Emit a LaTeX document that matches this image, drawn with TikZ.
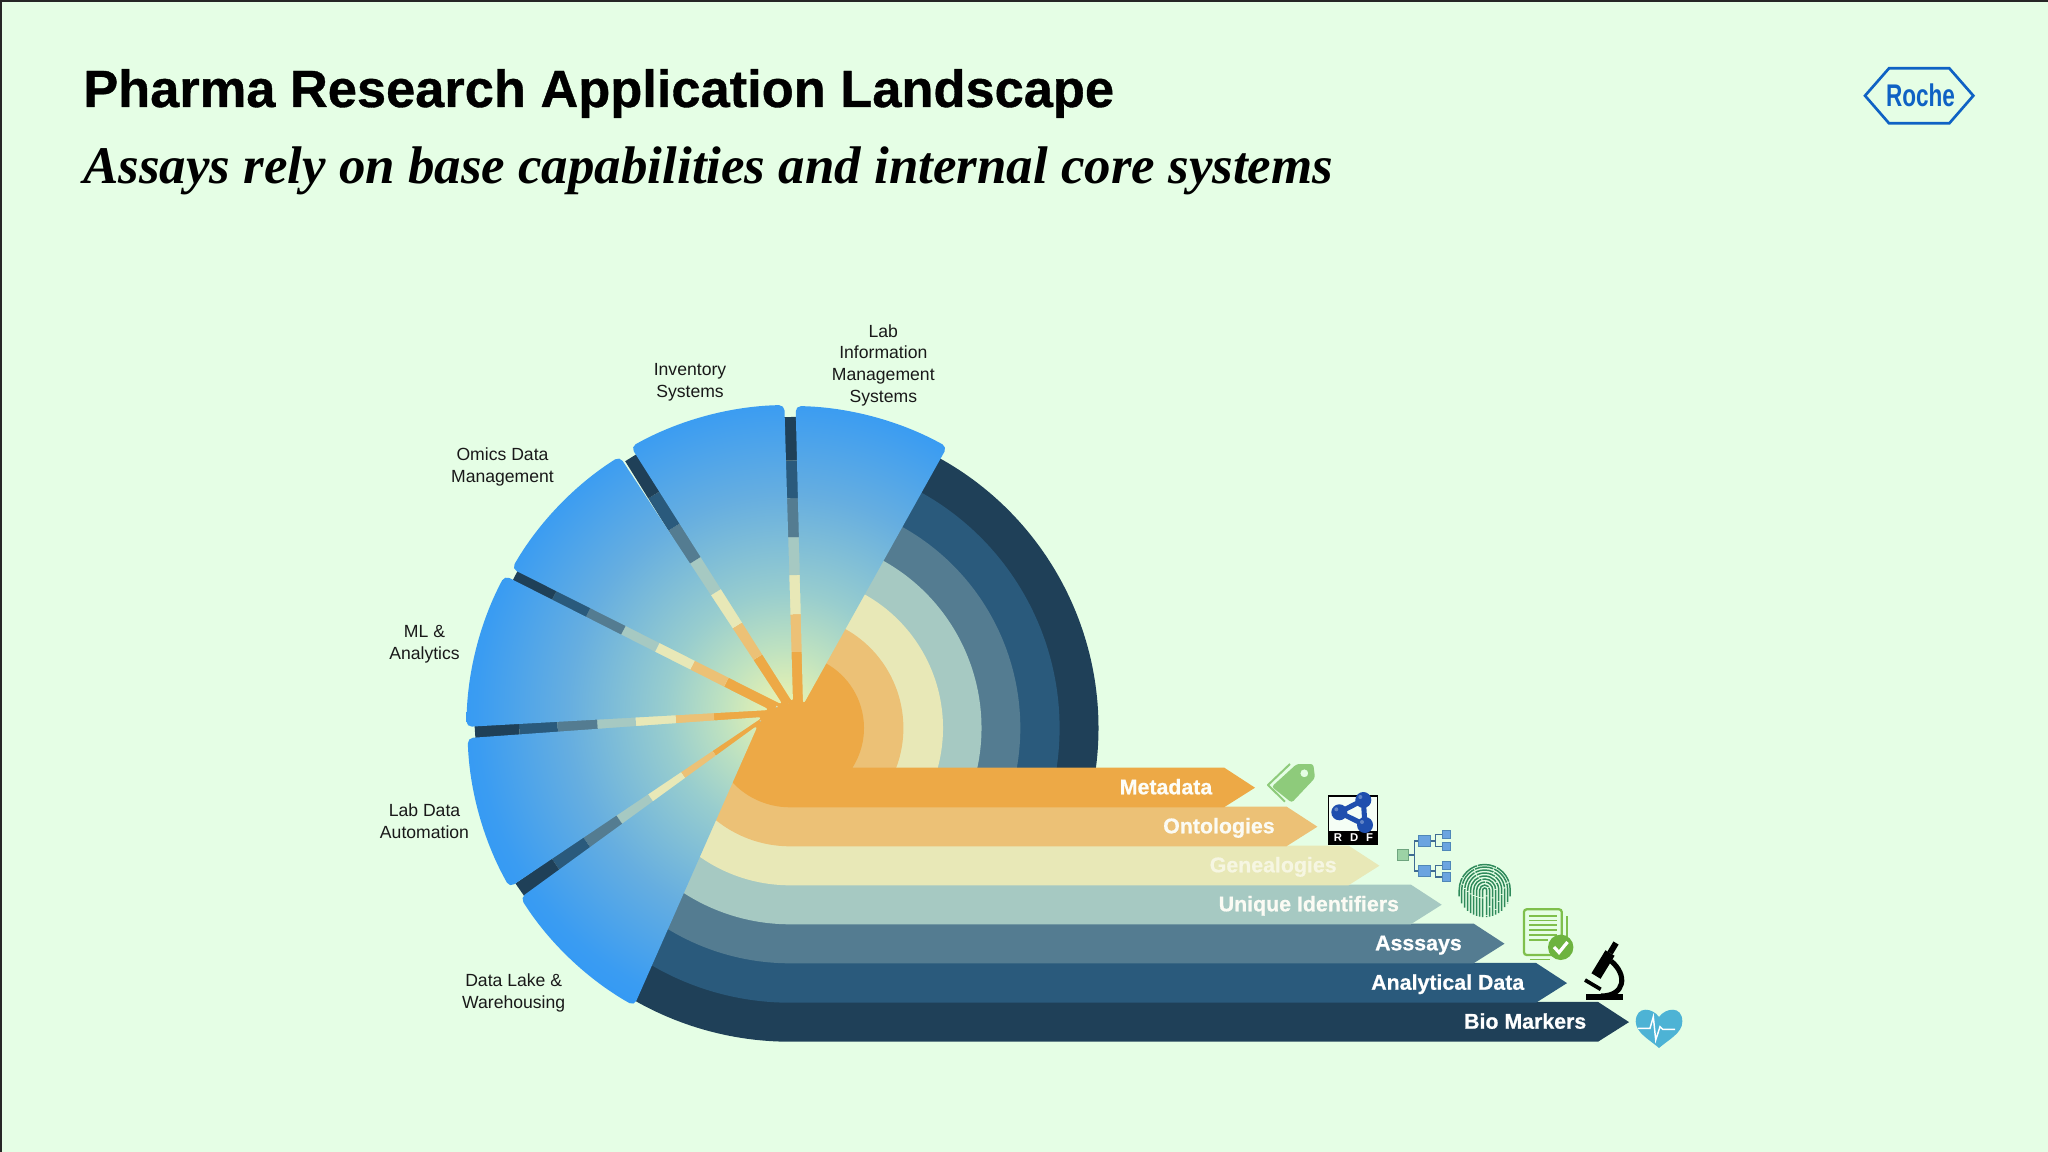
\documentclass[tikz,border=0pt]{standalone}
\usepackage{fontspec}
\setmainfont{Liberation Sans}
\newfontfamily\subfont{Liberation Serif}
\newfontfamily\headfont[BoldFeatures={FakeBold=0.7}]{Liberation Sans}
\newfontfamily\rochefont[FakeStretch=0.72]{Liberation Sans}
\usetikzlibrary{calc}
\definecolor{pagebg}{HTML}{E5FEE5}
\definecolor{ringa}{HTML}{EDA946}
\definecolor{ringb}{HTML}{ECC176}
\definecolor{ringc}{HTML}{E8E8B7}
\definecolor{ringd}{HTML}{A6C9C2}
\definecolor{ringe}{HTML}{547C91}
\definecolor{ringf}{HTML}{2A5A7C}
\definecolor{ringg}{HTML}{1F4058}
\definecolor{rocheblue}{HTML}{0F62C4}
\definecolor{taggreen}{HTML}{8ECB7B}
\definecolor{docgreen}{HTML}{7FBF4C}
\definecolor{checkgreen}{HTML}{6DB33F}
\definecolor{printgreen}{HTML}{2F8A5B}
\definecolor{heartblue}{HTML}{4DB3D5}
\definecolor{rdfblue}{HTML}{1F4FAE}
\definecolor{rootfill}{HTML}{9CD2A5}
\definecolor{rootedge}{HTML}{6FA57F}
\definecolor{treefill}{HTML}{6BA4E0}
\definecolor{treeedge}{HTML}{4F87B8}
\definecolor{fanA}{HTML}{E9F3B0}
\definecolor{fanB}{HTML}{E0EFB4}
\definecolor{fanC}{HTML}{BFE2C0}
\definecolor{fanD}{HTML}{98CDCE}
\definecolor{fanE}{HTML}{66AEE0}
\definecolor{fanF}{HTML}{3A9CF2}
\definecolor{fanG}{HTML}{3399F5}
\pgfdeclareradialshading{fanshade}{\pgfpointorigin}{%
  color(0bp)=(fanA);
  color(1.6bp)=(fanB);
  color(4.6bp)=(fanC);
  color(8.8bp)=(fanD);
  color(16bp)=(fanE);
  color(22.75bp)=(fanF);
  color(25bp)=(fanG);
  color(100bp)=(fanG)}
\tikzset{
  fanlabel/.style={align=center, inner sep=0pt, text=black!90, font=\fontsize{13.2}{16.4}\selectfont},
  bandlabel/.style={anchor=base east, inner sep=0pt, font=\headfont\fontsize{16}{18}\selectfont\bfseries},
  treeroot/.style={draw=rootedge, fill=rootfill, line width=0.8pt, minimum size=8.5pt, inner sep=0pt},
  treemid/.style={draw=treeedge, fill=treefill, line width=0.8pt, minimum size=8.5pt, inner sep=0pt},
  treeleaf/.style={treemid, minimum size=6.6pt},
  treeline/.style={draw=treeedge!80!black, line width=0.8pt}
}
\begin{document}
\begin{tikzpicture}[x=0.75pt,y=-0.75pt]
  \useasboundingbox (0,0) rectangle (2048,1152);
  \fill[pagebg] (0,0) rectangle (2048,1152);
  \fill[black!85] (0,0) rectangle (2048,2);
  \fill[black!85] (0,0) rectangle (1.5,1152);
  \coordinate (fancentre) at (790,728);

  \node[anchor=base west, inner sep=0pt, font=\headfont\fontsize{39.3}{42}\selectfont\bfseries] (title) at (83,107) {Pharma Research Application Landscape};
  \node[anchor=base west, inner sep=0pt, font=\subfont\fontsize{39.7}{44}\selectfont\bfseries\itshape] (subtitle) at (83,184) {Assays rely on base capabilities and internal core systems};

  \draw[rocheblue, line width=2pt] (1865,95.7) -- (1889,68.3) -- (1949.3,68.3) -- (1973.3,95.7) -- (1949.3,123.3) -- (1889,123.3) -- cycle;
  \node[text=rocheblue, inner sep=0pt, font=\rochefont\fontsize{23.5}{24}\selectfont\bfseries] (roche) at (1920.5,95) {Roche};

  \foreach \rup/\rlow/\btm/\tip/\col/\lab/\labcol in {
    308.5/313.7/1041.7/1629/ringg/Bio Markers/white,
    269.6/274.5/1002.7/1567/ringf/Analytical Data/white,
    230.3/235/963.3/1504.5/ringe/Asssays/white,
    191.5/196/924.3/1441.7/ringd/Unique Identifiers/white!85!ringc,
    153/157/885.3/1379.4/ringc/Genealogies/white!60!ringc,
    113.4/118/846.3/1317.4/ringb/Ontologies/white!85!ringc,
    74/79/807.3/1255/ringa/Metadata/white!90!ringc} {
    \pgfmathsetmacro\top{\btm-39.8}
    \pgfmathsetmacro\mid{\btm-19.6}
    \pgfmathsetmacro\base{\tip-31}
    \fill[\col] (758,725) -- (770,710) -- (793,702) -- (803,705)
      -- ($(fancentre)+(-65:\rup)$) arc[start angle=-65, end angle={asin(40/\rup)}, radius=\rup]
      |- (\base,\top) -- (\tip,\mid) -- (\base,\btm) -- (790,\btm)
      arc[start angle=90, end angle=140, radius=\rlow] -- cycle;
    \node[bandlabel, text=\labcol] (band\col) at (\tip-42.5,\mid+6.6) {\lab};
  }

  \foreach \ax/\ay/\bx/\by in {797/707/791/417, 786/705/632/457, 776/707/516/574, 770/712/475/732, 761/723/520/890} {
    \foreach \sa/\sb/\col in {0/.19/ringa, .19/.32/ringb, .32/.455/ringc, .455/.585/ringd, .585/.72/ringe, .72/.85/ringf, .85/1/ringg} {
      \draw[\col, line width=12pt] ($(\ax,\ay)!\sa!(\bx,\by)$) -- ($(\ax,\ay)!\sb!(\bx,\by)$);
    }
  }

  \begin{scope}
    \clip[rounded corners=4pt]
      (803,705) -- ($(fancentre)+(-89:322)$) arc[start angle=-89, end angle=-60.8, radius=322] -- cycle
      (793,703) -- ($(fancentre)+(-91:323)$) arc[start angle=-91, end angle=-119.5, radius=323] -- cycle
      (783,705) -- ($(fancentre)+(-122.1:320.5)$) arc[start angle=-122.1, end angle=-150.2, radius=320.5] -- cycle
      (770,710) -- ($(fancentre)+(-151.9:323.5)$) arc[start angle=-151.9, end angle=-179.8, radius=323.5] -- cycle
      (763,717) -- ($(fancentre)+(178.2:322.5)$) arc[start angle=178.2, end angle=150.4, radius=322.5] -- cycle
      (758,725) -- ($(fancentre)+(147.8:318.5)$) arc[start angle=147.8, end angle=119.3, radius=318.5] -- cycle;
    \shade[shading=fanshade] (785,712) circle[radius=340];
  \end{scope}

  \node[fanlabel] (lims) at (883.3,365.3) {Lab\\Information\\Management\\Systems};
  \node[fanlabel] (inventory) at (690,382.3) {Inventory\\Systems};
  \node[fanlabel] (omics) at (502.5,467.3) {Omics Data\\Management};
  \node[fanlabel] (mlana) at (424.5,644.5) {ML \&\\Analytics};
  \node[fanlabel] (labauto) at (424.5,821) {Lab Data\\Automation};
  \node[fanlabel] (datalake) at (513.7,993) {Data Lake \&\\Warehousing};

  \draw[taggreen, line width=1.5pt, line join=round] (1290,764) -- (1268,785) -- (1285,801.7);
  \fill[taggreen, rounded corners=2pt, even odd rule] (1313.3,764) -- (1296.7,764) -- (1271.7,786.7) -- (1291.7,802.7) -- (1315,778) -- cycle (1304.3,773.3) circle[radius=4];

  \fill[white!60!pagebg] (1328.3,796) rectangle (1377.7,831);
  \draw[black, line width=1pt] (1328.3,796) rectangle (1377.7,844.3);
  \fill[black] (1328.3,831) rectangle (1377.7,844.3);
  \draw[rdfblue, line width=3.8pt] (1363.3,800) -- (1339.3,812.3) -- (1365,825) -- cycle;
  \foreach \bx/\by in {1363.3/800, 1339.3/812.3, 1365/825} {
    \fill[rdfblue] (\bx,\by) circle[radius=8];
    \fill[rdfblue!70!white] (\bx-3,\by-3) circle[radius=2];
  }
  \node[text=white, inner sep=0pt, font=\fontsize{8.5}{9}\selectfont\bfseries] (rdf) at (1353.5,838) {R\hspace{6pt}D\hspace{6pt}F};

  \node[treeroot] (troot) at (1403,855) {};
  \node[treemid] (tmida) at (1424.5,841) {};
  \node[treemid] (tmidb) at (1424.5,871) {};
  \node[treeleaf] (tleafa) at (1446.5,834.5) {};
  \node[treeleaf] (tleafb) at (1446.5,846.5) {};
  \node[treeleaf] (tleafc) at (1446.5,865.5) {};
  \node[treeleaf] (tleafd) at (1446.5,877) {};
  \draw[treeline] (troot.east) -- ++(5,0) |- (tmida.west);
  \draw[treeline] (troot.east) -- ++(5,0) |- (tmidb.west);
  \draw[treeline] (tmida.east) -- ++(5,0) |- (tleafa.west);
  \draw[treeline] (tmida.east) -- ++(5,0) |- (tleafb.west);
  \draw[treeline] (tmidb.east) -- ++(5,0) |- (tleafc.west);
  \draw[treeline] (tmidb.east) -- ++(5,0) |- (tleafd.west);

  \foreach \rr in {2,5,8,11,14,17,20,23,25.5} {
    \pgfmathsetmacro\yend{892+sqrt(680-\rr*\rr)-1}
    \draw[printgreen, line width=1.1pt, dash pattern=on 14pt off 0.8pt] (1484.7-\rr,\yend) -- (1484.7-\rr,890) arc[start angle=180, end angle=360, radius=\rr] -- (1484.7+\rr,\yend);
  }

  \draw[docgreen, line width=1.2pt] (1566.7,916) -- (1566.7,950);
  \draw[docgreen, line width=1.2pt] (1530,959.5) -- (1550,959.5);
  \draw[docgreen, line width=1.7pt, rounded corners=2pt] (1524,909.3) rectangle (1561.7,955);
  \foreach \ly in {916,920.7,925,930,935} {
    \draw[docgreen, line width=1pt] (1529.3,\ly) -- (1556.7,\ly);
  }
  \draw[docgreen, line width=1pt] (1529.3,940) -- (1548,940);
  \fill[checkgreen] (1560.7,947.3) circle[radius=12.7];
  \draw[white, line width=2.4pt] (1554,947) -- (1559,952.5) -- (1567.5,942);

  \fill[black] (1586,994.3) rectangle (1622.7,1000);
  \draw[black, line width=2.8pt] (1585,980) -- (1600.7,989.3);
  \draw[black, line width=8pt] (1596,976) -- (1610,953);
  \draw[black, line width=4.5pt] (1610,953) -- (1616,943);
  \draw[black, line width=3.8pt] (1611,961) .. controls (1628,975) and (1625,996) .. (1601,996);

  \fill[heartblue] (1659,1017) .. controls (1653,1008) and (1636,1005) .. (1635.7,1021.7) .. controls (1636,1033) and (1650,1040) .. (1659,1048) .. controls (1668,1040) and (1682.5,1033) .. (1682.3,1021.7) .. controls (1682.5,1005) and (1665,1008) .. (1659,1017) -- cycle;
  \draw[white, line width=1.1pt] (1638,1028.3) -- (1650,1028.3) -- (1653.3,1016.7) -- (1655.7,1040) -- (1660,1026.7) -- (1662.7,1029.3) -- (1675,1029.3);
\end{tikzpicture}
\end{document}
